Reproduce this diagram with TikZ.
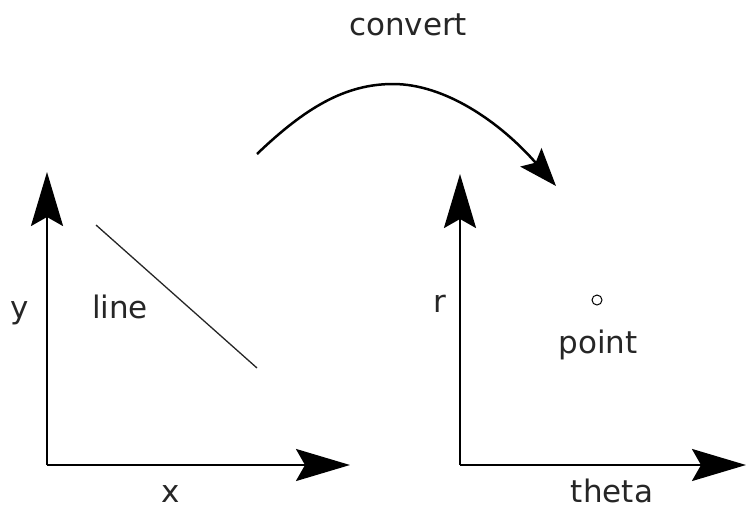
\documentclass[tikz,border=0pt]{standalone}
\usepackage{fontspec}
\setmainfont{DejaVu Sans}
\usetikzlibrary{arrows.meta}
\begin{document}
\begin{tikzpicture}[x=1pt,y=-1pt,
  axis/.style={line width=2.5pt,-{Stealth[length=54pt,width=32pt,inset=9pt]}},
  lbl/.style={font=\fontsize{31}{36}\selectfont,text=black!85,inner sep=0pt}]
\useasboundingbox (0,0) rectangle (748,509);
% left axes
\coordinate (o1) at (47,465);
\coordinate (y1) at (47,172);
\coordinate (x1) at (350,465);
\draw[axis] (o1) -- (y1);
\draw[axis] (o1) -- (x1);
% right axes
\coordinate (o2) at (460,465);
\coordinate (y2) at (460,174);
\coordinate (x2) at (746,465);
\draw[axis] (o2) -- (y2);
\draw[axis] (o2) -- (x2);
% line
\coordinate (l1) at (96,225);
\coordinate (l2) at (257,368);
\draw[line width=1.3pt,black!85] (l1) -- (l2);
% convert curve
\coordinate (c1) at (257,154);
\coordinate (pk) at (393,84);
\coordinate (c2) at (556,186);
\draw[line width=2.5pt,-{Stealth[length=38pt,width=28pt,inset=7pt]}] (c1) .. controls (305,108) and (345,84) .. (pk) .. controls (445,84) and (500,122) .. (c2);
% point
\node[circle,draw,line width=1pt,minimum size=10pt,inner sep=0pt] (pt) at (597,300) {};
% labels
\node[lbl] (convert) at (408,25) {convert};
\node[lbl] (ylab) at (20,313) {y};
\node[lbl] (line) at (120,307) {line};
\node[lbl,anchor=base] (xlab) at (171,502) {x};
\node[lbl] (rlab) at (440,304) {r};
\node[lbl] (point) at (598,345) {point};
\node[lbl,anchor=base] (theta) at (612,502) {theta};
\end{tikzpicture}
\end{document}
